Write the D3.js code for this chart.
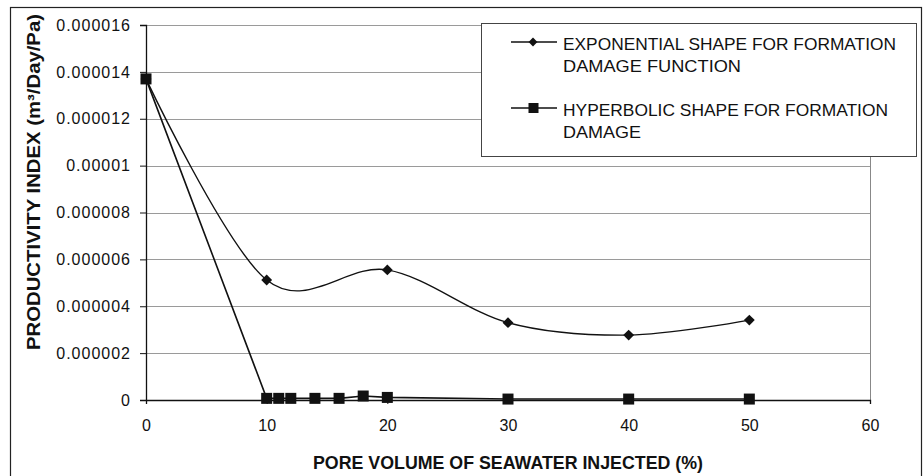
<!DOCTYPE html>
<html>
<head>
<meta charset="utf-8">
<script src="https://cdn.jsdelivr.net/npm/d3@7"></script>
<style>
  body { margin: 0; background: #fff; }
  svg { display: block; font-family: "Liberation Sans", Arial, sans-serif; }
</style>
</head>
<body>
<svg id="chart" width="924" height="476"></svg>
<script>
// ---- data ----
const expX = [0, 10, 20, 30, 40, 50];
const expY = [0.0000137, 0.00000512, 0.00000555, 0.0000033, 0.00000277, 0.00000341];
const hypX = [0, 10, 11, 12, 14, 16, 18, 20, 30, 40, 50];
const hypY = [0.0000137, 0.00000007, 0.00000007, 0.00000007, 0.00000007, 0.00000007, 0.00000017, 0.00000011, 0.00000004, 0.00000004, 0.00000004];
const yTicks = [0, 0.000002, 0.000004, 0.000006, 0.000008, 0.00001, 0.000012, 0.000014, 0.000016];
const yTickLabels = ["0", "0.000002", "0.000004", "0.000006", "0.000008", "0.00001", "0.000012", "0.000014", "0.000016"];
const xTicks = [0, 10, 20, 30, 40, 50, 60];
const seriesNames = [["EXPONENTIAL SHAPE FOR FORMATION", "DAMAGE FUNCTION"],
                     ["HYPERBOLIC SHAPE FOR FORMATION", "DAMAGE"]];
const xTitle = "PORE VOLUME OF SEAWATER INJECTED (%)";
const yTitle = "PRODUCTIVITY INDEX (m³/Day/Pa)";

// ---- layout ----
const svg = d3.select("#chart");
const x = d3.scaleLinear().domain([0, 60]).range([146, 870]);
const y = d3.scaleLinear().domain([0, 0.000016]).range([400, 25]);

svg.append("rect").attr("width", 924).attr("height", 476).attr("fill", "#fff");
// outer frame
svg.append("rect").attr("x", 10.5).attr("y", 7.5).attr("width", 911).attr("height", 480)
  .attr("fill", "none").attr("stroke", "#222").attr("stroke-width", 1.2);

// gridlines
svg.append("g").selectAll("line").data(yTicks.slice(1)).join("line")
  .attr("x1", x(0)).attr("x2", x(60))
  .attr("y1", d => Math.round(y(d)) + 0.5).attr("y2", d => Math.round(y(d)) + 0.5)
  .attr("stroke", "#9a9a9a").attr("stroke-width", 1);
// right plot border
svg.append("line").attr("x1", x(60) + 0.5).attr("x2", x(60) + 0.5)
  .attr("y1", y(0.000016)).attr("y2", y(0)).attr("stroke", "#888").attr("stroke-width", 1);

// y axis
const yAxis = d3.axisLeft(y).tickValues(yTicks).tickSize(6).tickPadding(9)
  .tickFormat((d, i) => yTickLabels[i]);
const gy = svg.append("g").attr("transform", `translate(${x(0)},0)`).call(yAxis);
gy.select(".domain").attr("stroke", "#111").attr("stroke-width", 1.3);
gy.selectAll(".tick line").attr("stroke", "#111");
gy.selectAll(".tick text").attr("font-size", 16).attr("fill", "#111")
  .attr("font-family", "Liberation Sans, Arial, sans-serif").style("letter-spacing", "1px");

// x axis
const xAxis = d3.axisBottom(x).tickValues(xTicks).tickSize(4).tickPadding(16).tickFormat(d3.format("d"));
const gx = svg.append("g").attr("transform", `translate(0,${y(0)})`).call(xAxis);
gx.select(".domain").attr("stroke", "#111").attr("stroke-width", 1.3);
gx.selectAll(".tick line").attr("stroke", "#111");
gx.selectAll(".tick text").attr("font-size", 16).attr("fill", "#111")
  .attr("font-family", "Liberation Sans, Arial, sans-serif");

// axis titles
svg.append("text").attr("x", 508).attr("y", 469).attr("text-anchor", "middle")
  .attr("font-size", 17.5).attr("font-weight", "bold").attr("fill", "#111")
  .attr("textLength", 390).attr("lengthAdjust", "spacingAndGlyphs").text(xTitle);
svg.append("text").attr("transform", "translate(40,182) rotate(-90)").attr("text-anchor", "middle")
  .attr("font-size", 18).attr("font-weight", "bold").attr("fill", "#111")
  .attr("textLength", 336).attr("lengthAdjust", "spacingAndGlyphs").text(yTitle);

// series
const expData = expX.map((d, i) => [d, expY[i]]);
const hypData = hypX.map((d, i) => [d, hypY[i]]);

const lineExp = d3.line().x(d => x(d[0])).y(d => y(d[1])).curve(d3.curveCardinal.tension(0));
const lineHyp = d3.line().x(d => x(d[0])).y(d => y(d[1])).curve(d3.curveLinear);

svg.append("path").datum(hypData).attr("d", lineHyp).attr("fill", "none")
  .attr("stroke", "#111").attr("stroke-width", 1.6);
svg.append("path").datum(expData).attr("d", lineExp).attr("fill", "none")
  .attr("stroke", "#111").attr("stroke-width", 1.4);

const diamond = d3.symbol().type(d3.symbolDiamond2).size(75);
svg.append("g").selectAll("path").data(expData).join("path")
  .attr("transform", d => `translate(${x(d[0])},${y(d[1])})`)
  .attr("d", diamond).attr("fill", "#111");
svg.append("g").selectAll("rect").data(hypData).join("rect")
  .attr("x", d => x(d[0]) - 5.5).attr("y", d => y(d[1]) - 5.5)
  .attr("width", 11).attr("height", 11).attr("fill", "#111");

// legend
const lg = svg.append("g");
lg.append("rect").attr("x", 481.5).attr("y", 23.5).attr("width", 435).attr("height", 133)
  .attr("fill", "#fff").attr("stroke", "#444").attr("stroke-width", 1);
const entryY = [42, 108];
const legendDiamond = d3.symbol().type(d3.symbolDiamond2).size(50);
seriesNames.forEach((lines, i) => {
  const cy = entryY[i];
  lg.append("line").attr("x1", 511).attr("x2", 557).attr("y1", cy).attr("y2", cy)
    .attr("stroke", "#111").attr("stroke-width", 1.5);
  if (i === 0) {
    lg.append("path").attr("transform", `translate(533,${cy})`).attr("d", legendDiamond).attr("fill", "#111");
  } else {
    lg.append("rect").attr("x", 528.5).attr("y", cy - 5).attr("width", 10).attr("height", 10).attr("fill", "#111");
  }
  const widths = i === 0 ? [333, 178] : [325, 78];
  lines.forEach((t, j) => {
    lg.append("text").attr("x", 563).attr("y", cy + 8 + j * 22)
      .attr("font-size", 17).attr("fill", "#111")
      .attr("textLength", widths[j]).attr("lengthAdjust", "spacingAndGlyphs").text(t);
  });
});
</script>
</body>
</html>
